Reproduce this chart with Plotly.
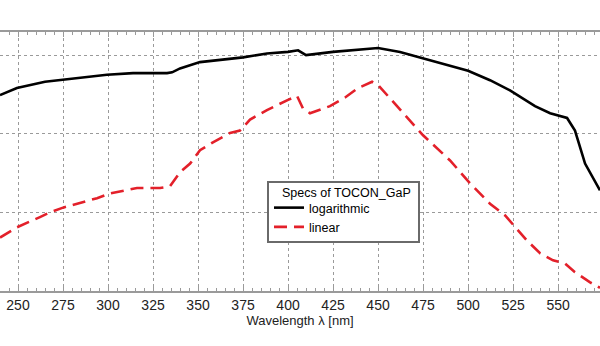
import plotly.graph_objects as go

# Wavelength (nm) and relative values (grid units)
log_wl = [240, 249.4, 265, 277.2, 299.4, 313.9, 332.8, 335.6, 340, 351.1, 375, 388.3, 400, 405.6,
          410, 425, 450, 462.2, 475, 500, 512.2, 523.3, 537.2, 545.6, 555, 559.4, 565, 573.3]
log_val = [2.49, 2.58, 2.66, 2.69, 2.75, 2.77, 2.77, 2.78, 2.83, 2.91, 2.97, 3.02, 3.04, 3.06,
           3.00, 3.04, 3.09, 3.04, 2.96, 2.80, 2.68, 2.55, 2.35, 2.26, 2.20, 2.04, 1.62, 1.28]

lin_wl = [240, 249.4, 262.2, 267.8, 275, 293.9, 301.1, 308.3, 316.1, 328.9, 334.4, 340, 345.6,
          351.1, 358.3, 367.8, 373.3, 378.9, 388.3, 400, 405, 408.3, 412.2, 423.3, 431.7, 438.9,
          446.7, 450, 456.7, 467.8, 475, 490, 501.1, 512.2, 520.6, 532.8, 540, 547.2, 553.9,
          559.4, 567.8, 573.3]
lin_val = [0.68, 0.81, 0.94, 1.00, 1.06, 1.18, 1.24, 1.27, 1.31, 1.31, 1.33, 1.51, 1.62,
           1.79, 1.89, 2.01, 2.04, 2.18, 2.30, 2.43, 2.48, 2.32, 2.26, 2.35, 2.46, 2.58,
           2.66, 2.62, 2.45, 2.17, 1.98, 1.66, 1.37, 1.11, 0.96, 0.64, 0.48, 0.39, 0.35,
           0.24, 0.11, 0.04]

x_ticks = [250, 275, 300, 325, 350, 375, 400, 425, 450, 475, 500, 525, 550, 575]
legend_title = "Specs of TOCON_GaP"

PT, PB, W = 32, 291, 600  # plot area top/bottom in px, figure width
PH = PB - PT


def px_x(px):
    return px / W


def px_y(py):
    return (PB - py) / PH


fig = go.Figure()
fig.add_trace(go.Scatter(x=log_wl, y=log_val, mode="lines", name="logarithmic",
                         line=dict(color="black", width=2.6)))
fig.add_trace(go.Scatter(x=lin_wl, y=lin_val, mode="lines", name="linear",
                         line=dict(color="#e3202a", width=2.6, dash="13px,7px")))

# legend frame
fig.add_shape(type="rect", xref="paper", yref="paper",
              x0=px_x(268), x1=px_x(419), y0=px_y(242), y1=px_y(182),
              fillcolor="white", line=dict(width=2, color="#6a6a6a"), layer="above")
fig.add_annotation(text=legend_title, xref="paper", yref="paper",
                   x=px_x(280), y=px_y(193), xanchor="left", yanchor="middle",
                   showarrow=False, font=dict(size=12.5, color="black"))

fig.update_layout(
    width=600, height=346,
    margin=dict(l=0, r=0, t=PT, b=346 - PB),
    paper_bgcolor="white", plot_bgcolor="white",
    font=dict(family="Liberation Sans, Arial, sans-serif", size=13, color="#222"),
    showlegend=True,
    legend=dict(
        font=dict(size=12.5, color="black"),
        x=px_x(269), y=px_y(193), xanchor="left", yanchor="top",
        bgcolor="rgba(0,0,0,0)", borderwidth=0,
    ),
    xaxis=dict(
        range=[240, 573.3], tickvals=x_ticks, ticktext=[str(v) for v in x_ticks],
        showgrid=True, gridcolor="#9a9a9a", griddash="dot", gridwidth=1,
        showline=True, linecolor="#9a9a9a", linewidth=1.5, mirror="ticks",
        ticks="inside", ticklen=5, tickcolor="#9a9a9a",
        minor=dict(dtick=5, tick0=0, ticks="inside", ticklen=3, tickcolor="#9a9a9a", showgrid=False),
        title=dict(text="Wavelength λ [nm]", standoff=2, font=dict(size=13)),
        tickfont=dict(size=14, color="#222"),
        zeroline=False,
    ),
    yaxis=dict(
        range=[0, 3.293], tickvals=[1, 2, 3], showticklabels=False,
        showgrid=True, gridcolor="#9a9a9a", griddash="dot", gridwidth=1,
        showline=False, zeroline=False, ticks="",
    ),
)

fig.write_html("out.html")
